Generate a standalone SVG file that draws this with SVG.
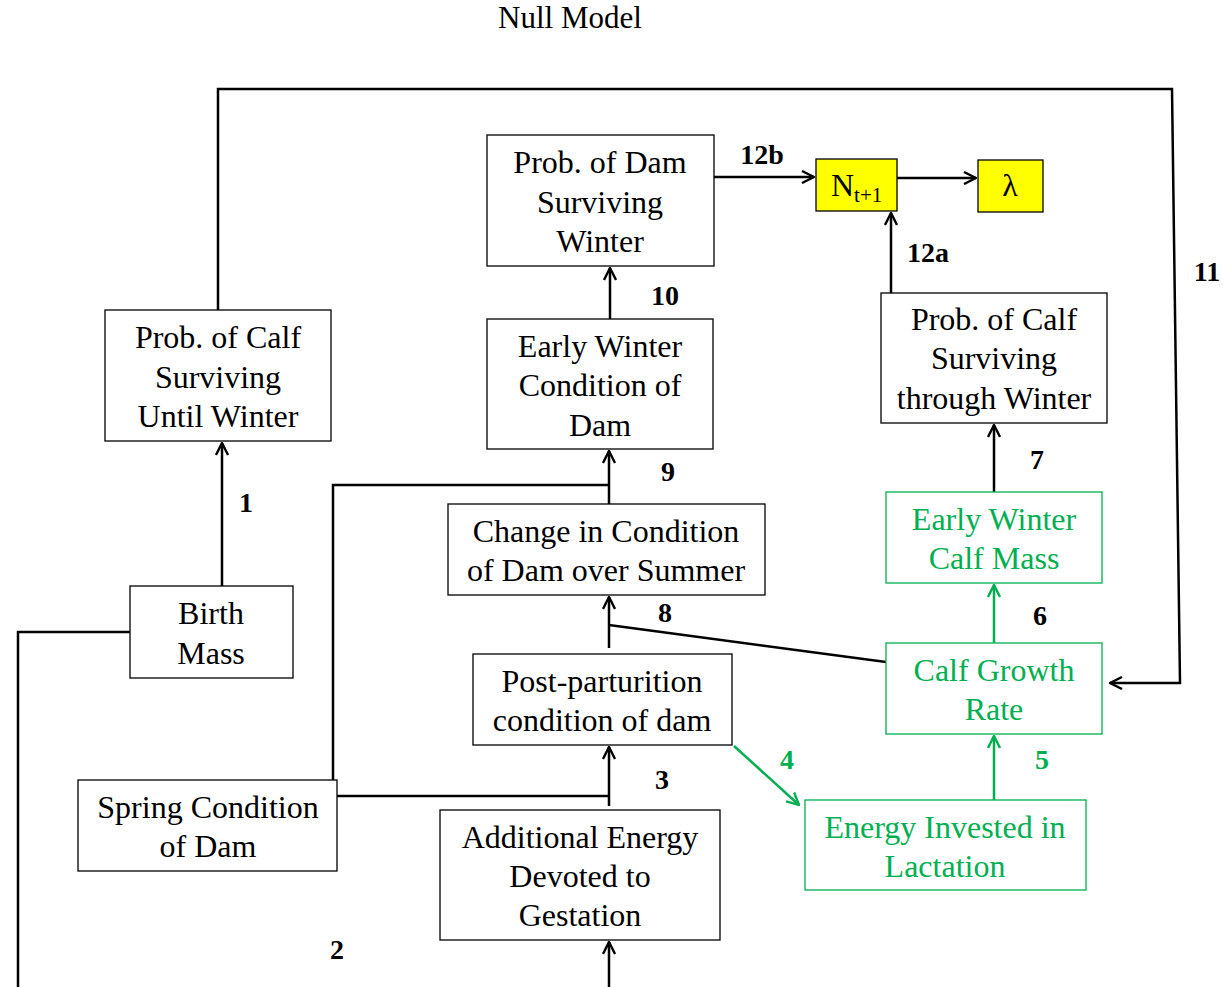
<svg xmlns="http://www.w3.org/2000/svg" width="1223" height="987" viewBox="0 0 1223 987">
<style>
.box{fill:#fff;stroke:#000;stroke-width:1.3}
.gbox{fill:#fff;stroke:#00b050;stroke-width:1.3}
.ybox{fill:#ffff00;stroke:#000;stroke-width:1.3}
.t{font-family:"Liberation Serif","Times New Roman",serif;font-size:32px;text-anchor:middle;fill:#000}
.gt{font-family:"Liberation Serif","Times New Roman",serif;font-size:32px;text-anchor:middle;fill:#00b050}
.lab{font-family:"Liberation Serif","Times New Roman",serif;font-size:28px;font-weight:bold;text-anchor:middle;fill:#000}
.glab{font-family:"Liberation Serif","Times New Roman",serif;font-size:28px;font-weight:bold;text-anchor:middle;fill:#00b050}
.c{fill:none;stroke:#000;stroke-width:2.5}
.gc{fill:none;stroke:#00b050;stroke-width:2.5}
</style>
<defs>
<marker id="ah" viewBox="0 0 14 14" refX="13" refY="7" markerWidth="14" markerHeight="14" markerUnits="userSpaceOnUse" orient="auto">
<path d="M1,1 L13,7 L1,13" fill="none" stroke="#000" stroke-width="2.4"/>
</marker>
<marker id="gah" viewBox="0 0 14 14" refX="13" refY="7" markerWidth="14" markerHeight="14" markerUnits="userSpaceOnUse" orient="auto">
<path d="M1,1 L13,7 L1,13" fill="none" stroke="#00b050" stroke-width="2.4"/>
</marker>
</defs>
<rect width="1223" height="987" fill="#fff"/>
<text x="570" y="28" class="t" style="font-size:31px">Null Model</text>

<g id="connectors">
<path class="c" d="M218,310 V89 H1172 L1180,683 H1110" marker-end="url(#ah)"/>
<path class="c" d="M714,177 H814" marker-end="url(#ah)"/>
<path class="c" d="M897,178 H976" marker-end="url(#ah)"/>
<path class="c" d="M891,293 V213" marker-end="url(#ah)"/>
<path class="c" d="M610,319 V268" marker-end="url(#ah)"/>
<path class="c" d="M609,504 V451" marker-end="url(#ah)"/>
<path class="c" d="M333,780 V485 H609"/>
<path class="c" d="M222,586 V443" marker-end="url(#ah)"/>
<path class="c" d="M994,492 V425" marker-end="url(#ah)"/>
<path class="gc" d="M994,643 V585" marker-end="url(#gah)"/>
<path class="c" d="M609,648 V597" marker-end="url(#ah)"/>
<path class="c" d="M609,625 L886,662"/>
<path class="c" d="M609,806 V747" marker-end="url(#ah)"/>
<path class="c" d="M337,796 H609"/>
<path class="gc" d="M734,746 L799,805" marker-end="url(#gah)"/>
<path class="gc" d="M994,800 V736" marker-end="url(#gah)"/>
<path class="c" d="M130,632 H18 V987"/>
<path class="c" d="M609,987 V942" marker-end="url(#ah)"/>
<text x="762" y="164" class="lab">12b</text>
<text x="928" y="262" class="lab">12a</text>
<text x="1207" y="281" class="lab">11</text>
<text x="665" y="305" class="lab">10</text>
<text x="668" y="481" class="lab">9</text>
<text x="246" y="512" class="lab">1</text>
<text x="1037" y="469" class="lab">7</text>
<text x="1040" y="625" class="lab">6</text>
<text x="665" y="622" class="lab">8</text>
<text x="662" y="789" class="lab">3</text>
<text x="787" y="769" class="glab">4</text>
<text x="1042" y="769" class="glab">5</text>
<text x="337" y="959" class="lab">2</text>
</g>

<g id="dam-winter">
<rect class="box" x="487" y="135" width="227" height="131"/>
<text class="t" x="600" y="173">Prob. of Dam</text>
<text class="t" x="600" y="213">Surviving</text>
<text class="t" x="600" y="252">Winter</text>
</g>
<g id="nt1">
<rect class="ybox" x="816" y="159" width="81" height="52"/>
<text class="t" x="831" y="196" style="text-anchor:start">N<tspan style="font-size:21px" dy="6">t+1</tspan></text>
</g>
<g id="lambda">
<rect class="ybox" x="978" y="160" width="65" height="52"/>
<text class="t" x="1010" y="196">λ</text>
</g>
<g id="calf-until-winter">
<rect class="box" x="105" y="310" width="226" height="131"/>
<text class="t" x="218" y="348">Prob. of Calf</text>
<text class="t" x="218" y="388">Surviving</text>
<text class="t" x="218" y="427">Until Winter</text>
</g>
<g id="early-winter-dam">
<rect class="box" x="487" y="319" width="226" height="130"/>
<text class="t" x="600" y="357">Early Winter</text>
<text class="t" x="600" y="396">Condition of</text>
<text class="t" x="600" y="436">Dam</text>
</g>
<g id="calf-through-winter">
<rect class="box" x="881" y="293" width="226" height="130"/>
<text class="t" x="994" y="330">Prob. of Calf</text>
<text class="t" x="994" y="369">Surviving</text>
<text class="t" x="994" y="409">through Winter</text>
</g>
<g id="change-condition">
<rect class="box" x="448" y="504" width="317" height="91"/>
<text class="t" x="606" y="542">Change in Condition</text>
<text class="t" x="606" y="581">of Dam over Summer</text>
</g>
<g id="early-winter-calf">
<rect class="gbox" x="886" y="492" width="216" height="91"/>
<text class="gt" x="994" y="530">Early Winter</text>
<text class="gt" x="994" y="569">Calf Mass</text>
</g>
<g id="birth-mass">
<rect class="box" x="130" y="586" width="163" height="92"/>
<text class="t" x="211" y="624">Birth</text>
<text class="t" x="211" y="664">Mass</text>
</g>
<g id="post-parturition">
<rect class="box" x="473" y="654" width="259" height="91"/>
<text class="t" x="602" y="692">Post-parturition</text>
<text class="t" x="602" y="731">condition of dam</text>
</g>
<g id="calf-growth">
<rect class="gbox" x="886" y="643" width="216" height="91"/>
<text class="gt" x="994" y="681">Calf Growth</text>
<text class="gt" x="994" y="720">Rate</text>
</g>
<g id="spring-condition">
<rect class="box" x="78" y="780" width="259" height="91"/>
<text class="t" x="208" y="818">Spring Condition</text>
<text class="t" x="208" y="857">of Dam</text>
</g>
<g id="additional-energy">
<rect class="box" x="440" y="810" width="280" height="130"/>
<text class="t" x="580" y="848">Additional Energy</text>
<text class="t" x="580" y="887">Devoted to</text>
<text class="t" x="580" y="926">Gestation</text>
</g>
<g id="lactation">
<rect class="gbox" x="805" y="800" width="281" height="90"/>
<text class="gt" x="945" y="838">Energy Invested in</text>
<text class="gt" x="945" y="877">Lactation</text>
</g>
</svg>
